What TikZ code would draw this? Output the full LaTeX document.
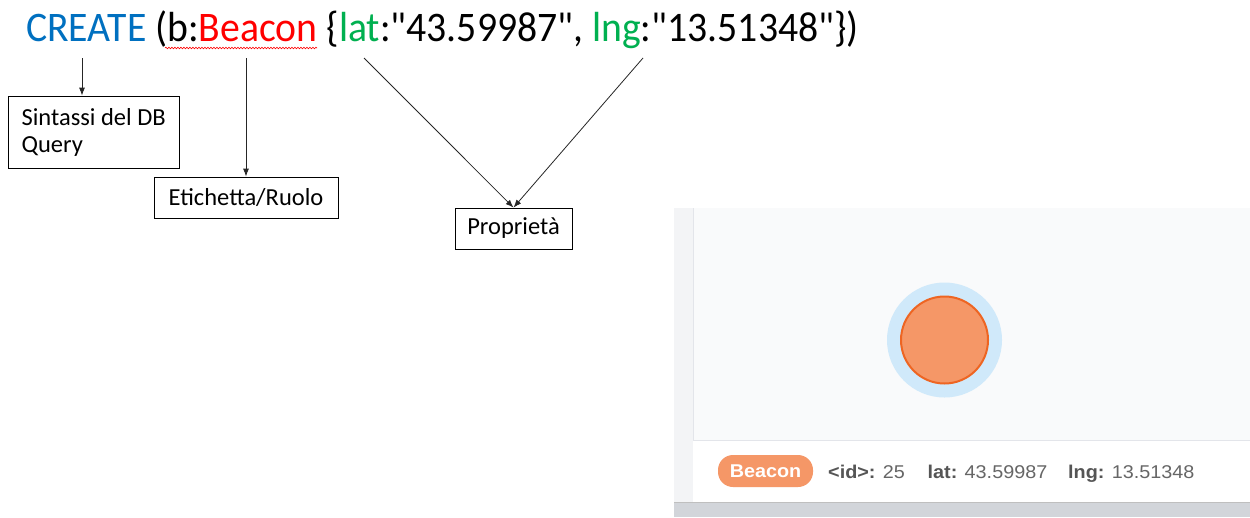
\documentclass[tikz,border=0pt]{standalone}
\usepackage{fontspec}
\setmainfont{Carlito}
\newfontfamily\arialf{Liberation Sans}
\usetikzlibrary{arrows.meta,decorations.pathmorphing}
\definecolor{cblue}{HTML}{0070C0}
\definecolor{cred}{HTML}{FF0000}
\definecolor{cgreen}{HTML}{00B050}
\definecolor{panelbg}{HTML}{F9FAFB}
\definecolor{stripbg}{HTML}{F3F4F6}
\definecolor{linecol}{HTML}{E3E5EA}
\definecolor{graybar}{HTML}{D2D5DA}
\definecolor{halo}{HTML}{D0E9FA}
\definecolor{nodeorange}{HTML}{F59767}
\definecolor{nodestroke}{HTML}{EE6522}
\definecolor{keygray}{HTML}{555555}
\definecolor{valgray}{HTML}{666666}
\newcommand{\qq}{\textquotedbl}
\newcommand{\wide}[1]{\scalebox{1.07}[1]{#1}}
\begin{document}
\begin{tikzpicture}[x=1pt,y=-1pt,
  lbl/.style={draw=black,line width=0.8pt,font=\fontsize{24.5}{27}\selectfont,inner ysep=0pt,align=left},
  conn/.style={draw=black!85,line width=0.8pt,-{Latex[length=8pt,width=6pt]}},
  prop/.style={anchor=base west,inner sep=0pt,text=valgray,font=\arialf\fontsize{18.5}{21}\selectfont}]
\useasboundingbox (0,0) rectangle (1250,517);
\fill[white] (0,0) rectangle (1250,517);

% title
\node[anchor=base west,inner sep=0pt,font=\fontsize{39.7}{48}\selectfont] (title) at (26,41.7)
 {\scalebox{1}[1.06]{\textcolor{cblue}{CREATE} (b:\textcolor{cred}{Beacon} \{\textcolor{cgreen}{lat}:\qq43.59987\qq, \textcolor{cgreen}{lng}:\qq13.51348\qq\})}};
\draw[cred,line width=0.6pt,decorate,decoration={snake,amplitude=0.8pt,segment length=3pt}] (165,48) -- (317,48);

\coordinate (c1) at (82,58);
\coordinate (c2) at (246,58);
\coordinate (c3) at (364,58);
\coordinate (c4) at (643,58);

% boxes
\node[lbl,minimum width=171pt,minimum height=72pt] (sq) at (93.7,132) {Sintassi del DB\\Query};
\node[lbl,minimum width=184pt,minimum height=41pt] (er) at (246,197.5) {Etichetta/Ruolo};
\node[lbl,minimum width=117pt,minimum height=41pt] (pr) at (513.5,228.5) {Proprietà};

\draw[conn] (c1) -- (c1 |- sq.north);
\draw[conn] (c2) -- (er.north);
\draw[conn] (c3) -- (pr.north);
\draw[conn] (c4) -- (pr.north);

% bottom panel
\fill[panelbg] (674,208) rectangle (1250,502);
\fill[stripbg] (674,208) rectangle (693,502);
\draw[linecol,line width=1pt] (693,208) -- (693,502);
\fill[white] (693,440) rectangle (1250,502);
\draw[linecol,line width=1pt] (693,440) -- (1250,440);
\fill[graybar] (674,502) rectangle (1250,517);
\draw[black!25,line width=1pt] (674,502) -- (1250,502);

\node[circle,fill=halo,minimum size=115pt,inner sep=0pt] (haloc) at (944.5,340) {};
\node[circle,fill=nodeorange,draw=nodestroke,line width=2pt,minimum size=87pt,inner sep=0pt] (bn) at (944.5,340) {};

\node[fill=nodeorange,rounded corners=15pt,minimum width=95pt,minimum height=32pt,inner sep=0pt,text=white,
  font=\arialf\bfseries\fontsize{18.5}{21}\selectfont] (pill) at (765.5,471) {\wide{Beacon}};
\node[prop] (pid) at (828,478) {\wide{\textcolor{keygray}{\bfseries <id>:} 25}};
\node[prop] (plat) at (927.5,478) {\wide{\textcolor{keygray}{\bfseries lat:} 43.59987}};
\node[prop] (plng) at (1068,478) {\wide{\textcolor{keygray}{\bfseries lng:} 13.51348}};
\end{tikzpicture}
\end{document}
